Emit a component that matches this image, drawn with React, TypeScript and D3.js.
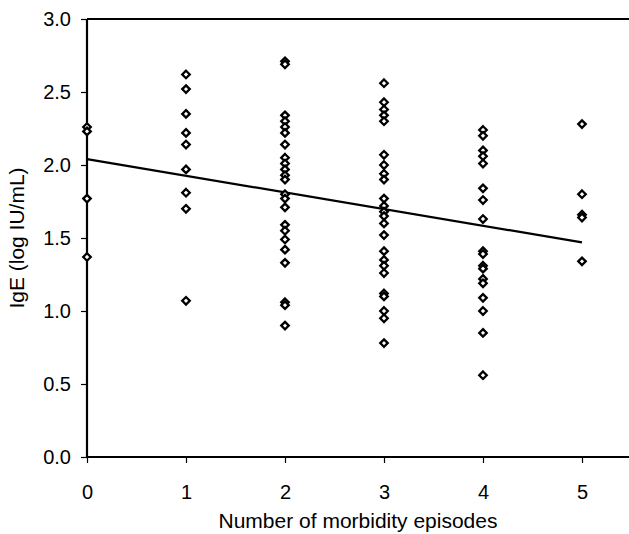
import React, { useEffect, useRef } from 'react';
import * as d3 from 'd3';

// IgE values (log IU/mL) grouped by number of morbidity episodes
const episodes = [0, 1, 2, 3, 4, 5];
const ige0 = [2.26, 2.23, 1.77, 1.37];
const ige1 = [2.62, 2.52, 2.35, 2.22, 2.14, 1.97, 1.81, 1.70, 1.07];
const ige2 = [2.71, 2.69, 2.34, 2.30, 2.26, 2.22, 2.14, 2.05, 2.01, 1.97, 1.93, 1.90, 1.80, 1.77, 1.71, 1.59, 1.55, 1.49, 1.42, 1.33, 1.06, 1.04, 0.90];
const ige3 = [2.56, 2.43, 2.38, 2.34, 2.30, 2.07, 2.00, 1.94, 1.90, 1.77, 1.72, 1.68, 1.65, 1.60, 1.52, 1.41, 1.35, 1.31, 1.26, 1.12, 1.10, 1.00, 0.95, 0.78];
const ige4 = [2.24, 2.20, 2.10, 2.06, 2.01, 1.84, 1.76, 1.63, 1.41, 1.39, 1.31, 1.29, 1.22, 1.19, 1.09, 1.00, 0.85, 0.56];
const ige5 = [2.28, 1.80, 1.66, 1.64, 1.34];
const groups = [ige0, ige1, ige2, ige3, ige4, ige5];

// fitted line: value at 0 and at 5 episodes
const fitX = [0, 5];
const fitY = [2.04, 1.47];

const yTicks = [0, 0.5, 1, 1.5, 2, 2.5, 3];

export default function App() {
  const ref = useRef(null);

  useEffect(() => {
    const svg = d3.select(ref.current);
    svg.selectAll('*').remove();

    const W = 629;
    const H = 534;
    const left = 87;
    const top = 19;
    const bottom = 457;

    const x = d3.scaleLinear().domain([0, 5]).range([left, 582]);
    const y = d3.scaleLinear().domain([0, 3]).range([bottom, top]);

    svg.attr('width', W).attr('height', H);
    const font = 'Liberation Sans, Arial, sans-serif';

    // top frame line
    svg.append('line')
      .attr('x1', left).attr('x2', W).attr('y1', y(3)).attr('y2', y(3))
      .attr('stroke', '#000').attr('stroke-width', 2.2);

    // Y axis
    const yAxis = svg.append('g')
      .attr('transform', `translate(${left},0)`)
      .call(d3.axisLeft(y).tickValues(yTicks).tickSize(6).tickPadding(10).tickFormat(d3.format('.1f')));
    yAxis.select('.domain').attr('stroke-width', 2.2).attr('d', `M0,${y(3)}V${y(0)}`);
    yAxis.selectAll('.tick line').attr('stroke-width', 1.2);
    yAxis.selectAll('text').attr('font-family', font).attr('font-size', 20).attr('fill', '#000');

    // X axis
    const xAxis = svg.append('g')
      .attr('transform', `translate(0,${bottom})`)
      .call(d3.axisBottom(x).tickValues(episodes).tickSize(6).tickPadding(22).tickFormat(d3.format('d')));
    xAxis.select('.domain').attr('stroke-width', 2.2).attr('d', `M${left},0H${W}`);
    xAxis.selectAll('.tick line').attr('stroke-width', 1.2);
    xAxis.selectAll('text').attr('font-family', font).attr('font-size', 20).attr('fill', '#000');

    // Fitted line
    const line = d3.line().x(d => x(d[0])).y(d => y(d[1]));
    svg.append('path')
      .attr('d', line(fitX.map((v, i) => [v, fitY[i]])))
      .attr('fill', 'none')
      .attr('stroke', '#000')
      .attr('stroke-width', 2.2);

    // Points
    const pts = groups.flatMap((g, i) => g.map(v => ({ e: episodes[i], v })));
    const diamond = d3.symbol().type(d3.symbolDiamond2).size(36);
    svg.append('g')
      .selectAll('path')
      .data(pts)
      .enter()
      .append('path')
      .attr('transform', d => `translate(${x(d.e)},${y(d.v)})`)
      .attr('d', diamond())
      .attr('fill', '#fff')
      .attr('stroke', '#000')
      .attr('stroke-width', 2.3);

    // Titles
    svg.append('text')
      .attr('x', 358)
      .attr('y', 528)
      .attr('text-anchor', 'middle')
      .attr('font-family', font)
      .attr('font-size', 21)
      .text('Number of morbidity episodes');

    svg.append('text')
      .attr('transform', `translate(24,${(top + bottom) / 2}) rotate(-90)`)
      .attr('text-anchor', 'middle')
      .attr('font-family', font)
      .attr('font-size', 21)
      .text('IgE (log IU/mL)');
  }, []);

  return <svg ref={ref} style={{ position: 'absolute', left: 0, top: 0, background: '#fff' }} />;
}
